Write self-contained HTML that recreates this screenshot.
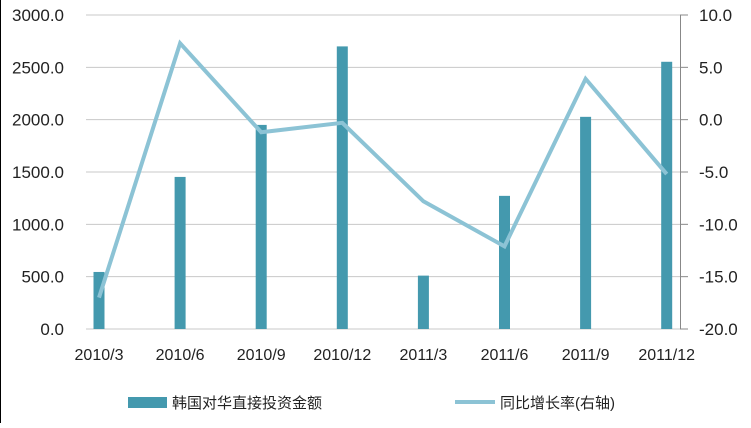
<!DOCTYPE html>
<html><head><meta charset="utf-8"><style>
body{margin:0;background:#fff;}
svg text{font-family:"Liberation Sans","Noto Sans CJK SC",sans-serif;fill:#222;}
</style></head><body>
<svg width="751" height="423">
<rect x="0" y="0" width="751" height="423" fill="#fff"/>
<line x1="0.5" y1="0" x2="0.5" y2="423" stroke="#000"/>
<g id="grid"></g><g id="bars"></g><g id="line"></g><g id="axes"></g>
<g>
<rect x="128" y="397" width="39" height="11" fill="#4499ae"/>
<text x="172" y="408" font-size="15">韩国对华直接投资金额</text>
<line x1="455" y1="402" x2="495" y2="402" stroke="#8cc3d5" stroke-width="4"/>
<text x="500" y="408" font-size="15">同比增长率(右轴)</text>
</g>
</svg>
<script>
const categories=["2010/3","2010/6","2010/9","2010/12","2011/3","2011/6","2011/9","2011/12"];
const investment=[545,1453,1950,2700,510,1272,2027,2553];
const growth=[-17.0,7.3,-1.2,-0.3,-7.8,-12.1,3.9,-5.2];
const leftTicks=[0,500,1000,1500,2000,2500,3000];
const rightTicks=[-20,-15,-10,-5,0,5,10];
const NS="http://www.w3.org/2000/svg";
const y0=329,y1=15,gx0=86,gx1=680;
const yL=v=>y0-(v/3000)*(y0-y1);
const yR=v=>y0-((v+20)/30)*(y0-y1);
const xC=i=>99+i*81.1;
function mk(t,a,p){const e=document.createElementNS(NS,t);for(const k in a)e.setAttribute(k,a[k]);document.getElementById(p).appendChild(e);return e;}
leftTicks.forEach((v,i)=>{
 const l=mk('line',{x1:gx0,x2:gx1,y1:yL(v),y2:yL(v),stroke:'#c8c8c8'},'grid');
 
 
 const t=mk('text',{x:64,y:yL(v)+6,'text-anchor':'end','font-size':17},'axes');
 t.textContent=v.toFixed(1);
 
 
});
rightTicks.forEach(v=>{
 const tk=mk('line',{x1:680,x2:688,y1:yR(v),y2:yR(v),stroke:'#888'},'axes');
 
 
 const t=mk('text',{x:699,y:yR(v)+6,'font-size':17},'axes');
 t.textContent=v.toFixed(1);
 
 
});
const ax=mk('line',{x1:680.5,x2:680.5,y1:y1,y2:y0,stroke:'#888'},'axes');


categories.forEach((c,i)=>{
 const b=mk('rect',{x:xC(i)-5.5,y:yL(investment[i]),width:11,height:y0-yL(investment[i]),fill:'#4499ae'},'bars');
 
 
 const t=mk('text',{x:xC(i),y:360,'text-anchor':'middle','font-size':16},'axes');
 t.textContent=c;
 
 
});
const pl=mk('polyline',{points:growth.map((v,i)=>xC(i)+','+yR(v)).join(' '),fill:'none',stroke:'#8cc3d5','stroke-width':4,'stroke-linejoin':'miter'},'line');


</script>
</body></html>
